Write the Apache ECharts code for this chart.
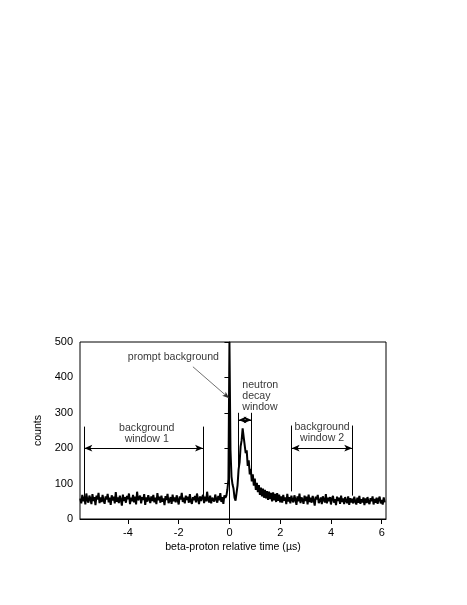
<!DOCTYPE html>
<html>
<head>
<meta charset="utf-8">
<title>beta-proton relative time</title>
<script src="https://cdn.jsdelivr.net/npm/echarts@6/dist/echarts.min.js"></script>
<style>
  html, body { margin: 0; padding: 0; background: #fff; }
  #chart { width: 467px; height: 605px; }
</style>
</head>
<body>
<div id="chart"></div>
<script>
// histogram bins: first bin centre and width in µs
const binStart = -5.88;
const binWidth = 0.04;

// counts before the prompt peak (-5.88 .. -0.16 µs)
const countsBefore = [
  58, 44, 68, 50, 63, 41, 72, 53, 46, 66, 57, 42,
  70, 51, 62, 39, 66, 55, 74, 45, 61, 48, 68, 52,
  43, 64, 55, 71, 47, 60, 40, 67, 52, 63, 44, 76,
  49, 61, 45, 66, 54, 38, 69, 51, 62, 46, 65, 56,
  72, 42, 60, 50, 68, 47, 63, 41, 77, 53, 48, 66,
  44, 62, 54, 70, 40, 61, 49, 67, 56, 45, 64, 51,
  68, 47, 60, 42, 73, 53, 63, 46, 66, 49, 58, 39,
  65, 54, 71, 45, 52, 62, 43, 69, 50, 61, 47, 67,
  53, 41, 64, 55, 74, 48, 60, 44, 66, 54, 63, 46,
  70, 50, 43, 62, 53, 65, 47, 72, 56, 42, 64, 51,
  61, 68, 45, 63, 50, 77, 54, 47, 66, 44, 60, 64,
  49, 69, 56, 46, 65, 53, 73, 48, 62, 43, 67, 60
];

// prompt spike + neutron decay peak (-0.12 .. 2.00 µs)
const countsPeak = [
  66, 84, 112, 500, 196, 120, 98, 86, 60, 52,
  74, 96, 140, 160, 205, 222, 256, 232, 228, 186,
  194, 150, 166, 126, 142, 106, 126, 94, 114, 82,
  102, 76, 96, 68, 89, 64, 86, 60, 82, 58,
  79, 54, 77, 56, 74, 50, 75, 53, 71, 48,
  73, 51, 69, 47
];

// counts after the peak (2.04 .. 6.12 µs)
const countsAfter = [
  64, 46, 68, 52, 61, 42, 71, 49, 62, 44, 66, 53,
  47, 67, 55, 40, 64, 50, 72, 45, 61, 54, 43, 66,
  51, 63, 41, 69, 48, 60, 46, 65, 53, 38, 63, 55,
  68, 45, 51, 61, 42, 64, 54, 47, 70, 44, 60, 50,
  62, 41, 58, 65, 46, 56, 39, 63, 51, 60, 43, 66,
  48, 58, 42, 62, 51, 45, 64, 40, 59, 47, 57, 44,
  63, 49, 41, 60, 46, 65, 43, 56, 47, 61, 39, 58,
  45, 62, 48, 42, 59, 50, 64, 41, 57, 46, 60, 43,
  56, 63, 44, 54, 41, 61, 47
];

const xTicks = [-4, -2, 0, 2, 4, 6];

// window markers: [time, bottom count, top count]
const windowEdges = [
  [-5.72, 60, 261], [-1.04, 58, 261],
  [0.355, 140, 300], [0.875, 128, 300],
  [2.45, 78, 264], [4.84, 66, 264]
];
// double arrows: [from time, to time, count]
const windowArrows = [[-5.72, -1.04, 200], [0.355, 0.875, 280], [2.45, 4.84, 200]];
// prompt background pointer: [from time, from count, to time, to count]
const promptPointer = [-1.44, 430, -0.01, 341];

const noteText = ['prompt background', 'background\nwindow 1', 'neutron\ndecay\nwindow', 'background\nwindow 2'];
const noteX = [-2.21, -3.26, 0.505, 3.65];
const noteY = [456, 242, 348, 243];
const noteAlign = ['center', 'center', 'left', 'center'];

const counts = countsBefore.concat(countsPeak, countsAfter);
const trace = counts.map((c, i) => [+(binStart + i * binWidth).toFixed(2), c]);

const marks = [];
windowEdges.forEach(e => {
  marks.push([{ coord: [e[0], e[1]], symbol: 'none' }, { coord: [e[0], e[2]], symbol: 'none' }]);
});
windowArrows.forEach(a => {
  marks.push([
    { coord: [a[0], a[2]], symbol: 'arrow', symbolSize: [5, 8] },
    { coord: [a[1], a[2]], symbol: 'arrow', symbolSize: [5, 8] }
  ]);
});
marks.push([
  { coord: [promptPointer[0], promptPointer[1]], symbol: 'none', lineStyle: { width: 0.7, color: '#333' } },
  { coord: [promptPointer[2], promptPointer[3]], symbol: 'arrow', symbolSize: [4, 7] }
]);

const notes = noteText.map((t, i) => ({
  value: [noteX[i], noteY[i]],
  label: { formatter: t, align: noteAlign[i] }
}));

const font = 'Liberation Sans, Arial, Helvetica, sans-serif';
const chart = echarts.init(document.getElementById('chart'), null, { renderer: 'canvas' });

chart.setOption({
  animation: false,
  backgroundColor: '#fff',
  textStyle: { fontFamily: font, color: '#000' },
  grid: {
    left: 80, right: 81, top: 342, bottom: 86,
    show: true, borderColor: '#000', borderWidth: 1
  },
  xAxis: {
    type: 'value',
    min: -5.89,
    max: 6.17,
    name: 'beta-proton relative time (µs)',
    nameLocation: 'middle',
    nameGap: 23,
    nameTextStyle: { fontSize: 10.6, color: '#000', fontFamily: font },
    axisLine: { onZero: false, lineStyle: { color: '#000', width: 1 } },
    axisTick: { customValues: xTicks, length: 5, lineStyle: { color: '#000' } },
    axisLabel: { customValues: xTicks, margin: 8, fontSize: 11, color: '#000', fontFamily: font },
    splitLine: { show: false }
  },
  yAxis: {
    type: 'value',
    min: 0,
    max: 500,
    interval: 100,
    name: 'counts',
    nameLocation: 'middle',
    nameGap: 29,
    nameTextStyle: { fontSize: 10.6, color: '#000', fontFamily: font },
    axisLine: { show: true, lineStyle: { color: '#000', width: 1 } },
    axisTick: { show: true, length: 5, lineStyle: { color: '#000' } },
    axisLabel: { margin: 7, fontSize: 11, color: '#000', fontFamily: font },
    splitLine: { show: false }
  },
  series: [
    {
      name: 'counts',
      type: 'line',
      data: trace,
      showSymbol: false,
      sampling: 'none',
      clip: true,
      lineStyle: { color: '#000', width: 2, join: 'bevel' },
      markLine: {
        silent: true,
        animation: false,
        symbol: 'none',
        label: { show: false },
        lineStyle: { color: '#000', width: 1, type: 'solid' },
        emphasis: { disabled: true },
        data: marks
      }
    },
    {
      name: 'notes',
      type: 'scatter',
      data: notes,
      symbolSize: 0,
      silent: true,
      label: {
        show: true,
        position: 'inside',
        fontSize: 10.6,
        lineHeight: 10.8,
        color: '#000',
        fontFamily: font
      }
    }
  ]
});
</script>
</body>
</html>
